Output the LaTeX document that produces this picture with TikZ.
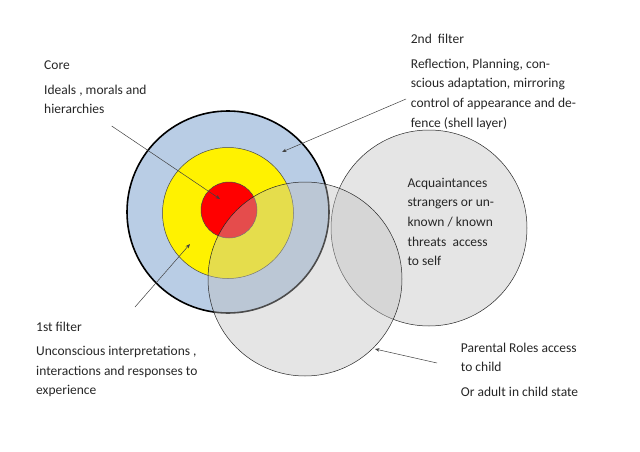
\documentclass[tikz,border=0pt]{standalone}
\usepackage{fontspec}
\setmainfont{Carlito}
\usetikzlibrary{arrows.meta}
\definecolor{shellblue}{RGB}{185,205,229}
\definecolor{ringgray}{RGB}{70,70,70}
\definecolor{fillgray}{RGB}{191,191,191}
\tikzset{
  lbl/.style={font=\fontsize{13.5}{19.6}\selectfont, align=left, anchor=base west, inner sep=0pt, text=black!85},
  disc/.style={circle, inner sep=0pt, draw=ringgray, line width=0.5pt},
  outer/.style={circle, draw=black!85, fill=fillgray, fill opacity=0.4, draw opacity=1, inner sep=0pt, line width=0.5pt},
  pointer/.style={draw=black!75, line width=0.5pt, -{Stealth[length=4.5pt,width=3.5pt]}}
}
\begin{document}
\begin{tikzpicture}[x=1pt,y=-1pt]
\useasboundingbox (0,0) rectangle (640,452);
% target circles
\node[disc, draw=black, line width=1.6pt, fill=shellblue, minimum size=202pt] (shell) at (228,212) {};
\node[disc, fill=yellow, minimum size=131pt] (filter1) at (228,213) {};
\node[disc, fill=red, minimum size=56pt] (core) at (229,210) {};
% overlapping circles
\node[outer, minimum size=196pt] (acq) at (429,228) {};
\node[outer, minimum size=194pt] (par) at (305,279) {};
% texts (base anchor = baseline of the last line)
\node[lbl] (coreT) at (44,69.3) {Core};
\node[lbl] (coreB) at (44,113.6) {Ideals , morals and\\hierarchies};
\node[lbl] (f2T) at (410.7,44) {2nd\hspace{0.45em}filter};
\node[lbl] (f2B) at (410.7,127.1) {Reflection, Planning, con-\\scious adaptation, mirroring\\control of appearance and de-\\fence (shell layer)};
\node[lbl] (f1T) at (36,331) {1st filter};
\node[lbl] (f1B) at (36,394.9) {Unconscious interpretations ,\\interactions and responses to\\experience};
\node[lbl] (acqT) at (407.3,265.7) {Acquaintances\\strangers or un-\\known / known\\threats\hspace{0.45em}access\\to self};
\node[lbl] (parT) at (460.7,371.9) {Parental Roles access\\to child};
\node[lbl] (parB) at (460.7,396) {Or adult in child state};
% pointers
\coordinate (c1) at (111.7,126);
\coordinate (c1e) at (220,199);
\coordinate (c2) at (406,99);
\coordinate (c2e) at (282,152);
\coordinate (c3) at (135,307);
\coordinate (c3e) at (190,244);
\coordinate (c4) at (437,363);
\coordinate (c4e) at (375,349);
\draw[pointer] (c1) -- (c1e);
\draw[pointer] (c2) -- (c2e);
\draw[pointer] (c3) -- (c3e);
\draw[pointer] (c4) -- (c4e);
\end{tikzpicture}
\end{document}
